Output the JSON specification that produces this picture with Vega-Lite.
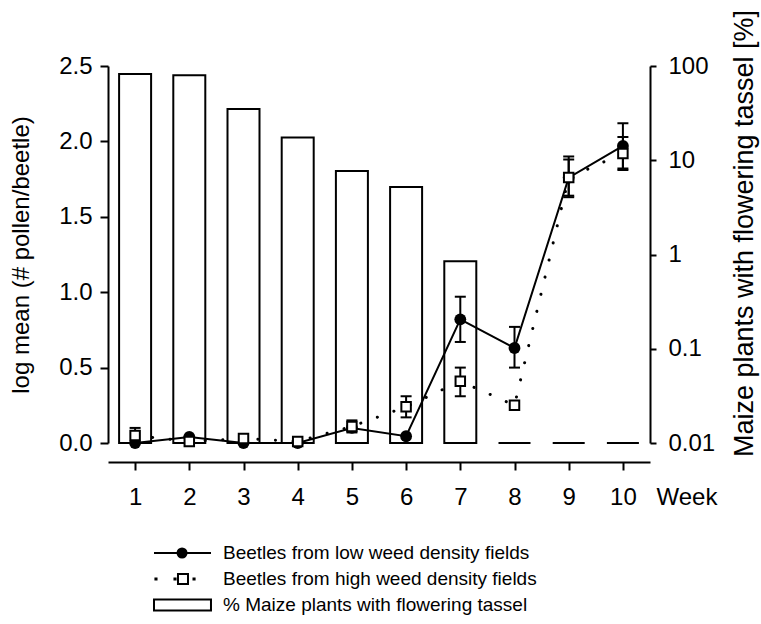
{
  "$schema": "https://vega.github.io/schema/vega-lite/v6.json",
  "width": 542,
  "height": 377,
  "autosize": {"type": "none"},
  "padding": {"left": 108, "top": 66, "right": 111, "bottom": 181},
  "background": "white",
  "config": {
    "view": {"stroke": null},
    "font": "Liberation Sans",
    "axis": {
      "labelFont": "Liberation Sans", "labelFontSize": 24, "labelColor": "black",
      "titleFont": "Liberation Sans", "titleFontSize": 24, "titleFontWeight": "normal", "titleColor": "black",
      "domainColor": "black", "domainWidth": 2, "tickColor": "black", "tickWidth": 2, "grid": false
    },
    "legend": {"labelFont": "Liberation Sans", "labelFontSize": 19, "labelColor": "black", "labelLimit": 0}
  },
  "datasets": {
    "tassel": [
      {"week": 1, "pct": 82}, {"week": 2, "pct": 80}, {"week": 3, "pct": 35}, {"week": 4, "pct": 17.4},
      {"week": 5, "pct": 7.7}, {"week": 6, "pct": 5.2}, {"week": 7, "pct": 0.85},
      {"week": 8, "pct": 0.01}, {"week": 9, "pct": 0.01}, {"week": 10, "pct": 0.01}
    ],
    "pollen": [
      {"week": 1, "series": "low", "mean": 0.0, "lo": null, "hi": null},
      {"week": 2, "series": "low", "mean": 0.04, "lo": null, "hi": null},
      {"week": 3, "series": "low", "mean": 0.0, "lo": null, "hi": null},
      {"week": 4, "series": "low", "mean": 0.0, "lo": null, "hi": null},
      {"week": 5, "series": "low", "mean": 0.1, "lo": null, "hi": null},
      {"week": 6, "series": "low", "mean": 0.045, "lo": null, "hi": null},
      {"week": 7, "series": "low", "mean": 0.82, "lo": 0.67, "hi": 0.97},
      {"week": 8, "series": "low", "mean": 0.63, "lo": 0.5, "hi": 0.77},
      {"week": 9, "series": "low", "mean": 1.76, "lo": 1.63, "hi": 1.88},
      {"week": 10, "series": "low", "mean": 1.97, "lo": 1.81, "hi": 2.12},
      {"week": 1, "series": "high", "mean": 0.05, "lo": 0.0, "hi": 0.1},
      {"week": 2, "series": "high", "mean": 0.01, "lo": null, "hi": null},
      {"week": 3, "series": "high", "mean": 0.03, "lo": null, "hi": null},
      {"week": 4, "series": "high", "mean": 0.01, "lo": null, "hi": null},
      {"week": 5, "series": "high", "mean": 0.11, "lo": 0.07, "hi": 0.15},
      {"week": 6, "series": "high", "mean": 0.24, "lo": 0.17, "hi": 0.31},
      {"week": 7, "series": "high", "mean": 0.41, "lo": 0.31, "hi": 0.5},
      {"week": 8, "series": "high", "mean": 0.25, "lo": null, "hi": null},
      {"week": 9, "series": "high", "mean": 1.76, "lo": 1.64, "hi": 1.9},
      {"week": 10, "series": "high", "mean": 1.92, "lo": 1.82, "hi": 2.03}
    ],
    "legendEntries": [
      {"entry": "Beetles from low weed density fields"},
      {"entry": "Beetles from high weed density fields"},
      {"entry": "% Maize plants with flowering tassel"}
    ]
  },
  "resolve": {"scale": {"y": "independent"}, "axis": {"y": "independent"}},
  "layer": [
    {
      "data": {"name": "tassel"},
      "mark": {"type": "bar", "width": 32, "fill": "white", "stroke": "black", "strokeWidth": 2},
      "encoding": {
        "x": {"field": "week", "type": "quantitative",
              "scale": {"domain": [0.5, 10.5], "nice": false, "zero": false, "padding": 0},
              "axis": {"values": [1,2,3,4,5,6,7,8,9,10], "format": "d", "offset": 19, "tickSize": 8, "labelPadding": 15,
                       "title": "Week", "titleAngle": 0, "titleAlign": "left", "titleBaseline": "top", "titleX": 548, "titleY": 23, "labelFlush": false}},
        "y": {"field": "pct", "type": "quantitative",
              "scale": {"type": "log", "domain": [0.01, 100], "nice": false},
              "axis": {"orient": "right", "values": [0.01, 0.1, 1, 10, 100], "format": "~g", "tickSize": 6, "labelPadding": 12,
                       "title": "Maize plants with flowering tassel [%]", "titleFontSize": 27, "titleAngle": 270, "titleBaseline": "top",
                       "titlePadding": 17, "titleY": 167, "labelFlush": false}},
        "y2": {"datum": 0.01}
      }
    },
    {
      "data": {"name": "pollen"},
      "encoding": {
        "x": {"field": "week", "type": "quantitative"}
      },
      "layer": [
        {
          "transform": [{"filter": "datum.series == 'low'"}],
          "mark": {"type": "line", "color": "black", "strokeWidth": 2},
          "encoding": {
            "y": {"field": "mean", "type": "quantitative",
                  "scale": {"domain": [0, 2.5], "nice": false, "zero": false},
                  "axis": {"orient": "left", "values": [0, 0.5, 1, 1.5, 2, 2.5], "format": ".1f", "tickSize": 8, "labelPadding": 8,
                           "title": "log mean (# pollen/beetle)", "titlePadding": 25, "labelFlush": false}}
          }
        },
        {
          "transform": [{"filter": "datum.series == 'high'"}],
          "mark": {"type": "line", "color": "black", "strokeWidth": 3, "strokeDash": [0.1, 17.5], "strokeCap": "round"},
          "encoding": {"y": {"field": "mean", "type": "quantitative"}}
        },
        {
          "transform": [{"filter": "datum.lo != null"}],
          "mark": {"type": "rule", "color": "black", "strokeWidth": 2},
          "encoding": {"y": {"field": "lo", "type": "quantitative"}, "y2": {"field": "hi"}, "detail": {"field": "series"}}
        },
        {
          "transform": [{"filter": "datum.lo != null"}],
          "mark": {"type": "tick", "orient": "horizontal", "color": "black", "thickness": 2, "size": 11, "opacity": 1},
          "encoding": {"y": {"field": "lo", "type": "quantitative"}}
        },
        {
          "transform": [{"filter": "datum.lo != null"}],
          "mark": {"type": "tick", "orient": "horizontal", "color": "black", "thickness": 2, "size": 11, "opacity": 1},
          "encoding": {"y": {"field": "hi", "type": "quantitative"}}
        },
        {
          "transform": [{"filter": "datum.series == 'low'"}],
          "mark": {"type": "point", "shape": "circle", "filled": true, "color": "black", "size": 140, "opacity": 1},
          "encoding": {"y": {"field": "mean", "type": "quantitative"}}
        },
        {
          "transform": [{"filter": "datum.series == 'high'"}],
          "mark": {"type": "point", "shape": "square", "fill": "white", "stroke": "black", "strokeWidth": 2, "size": 90, "opacity": 1},
          "encoding": {"y": {"field": "mean", "type": "quantitative"}}
        }
      ]
    },
    {
      "data": {"name": "legendEntries"},
      "mark": {"type": "point", "opacity": 0},
      "encoding": {
        "shape": {"field": "entry", "type": "nominal",
                  "scale": {"domain": ["Beetles from low weed density fields", "Beetles from high weed density fields", "% Maize plants with flowering tassel"],
                            "range": ["M-1,0H4.18M1.96,0A0.41,0.41,0,1,1,1.14,0A0.41,0.41,0,1,1,1.96,0ZM1.86,0A0.31,0.31,0,1,1,1.24,0A0.31,0.31,0,1,1,1.86,0ZM1.76,0A0.21,0.21,0,1,1,1.34,0A0.21,0.21,0,1,1,1.76,0ZM1.66,0A0.11,0.11,0,1,1,1.44,0A0.11,0.11,0,1,1,1.66,0Z",
                                      "M-0.87,-0.05h0.1v0.1h-0.1ZM0.86,-0.05h0.1v0.1h-0.1ZM2.59,-0.05h0.1v0.1h-0.1ZM1.18,-0.45H2.09V0.45H1.18Z",
                                      "M-1,-0.5H4.18V0.5H-1Z"]},
                  "legend": {"title": null, "orient": "none", "legendX": 45, "legendY": 475, "symbolSize": 484, "symbolStrokeColor": "black",
                             "symbolFillColor": "white", "symbolStrokeWidth": 2, "symbolOpacity": 1, "labelOffset": 46, "rowPadding": 4}}
      }
    }
  ]
}
